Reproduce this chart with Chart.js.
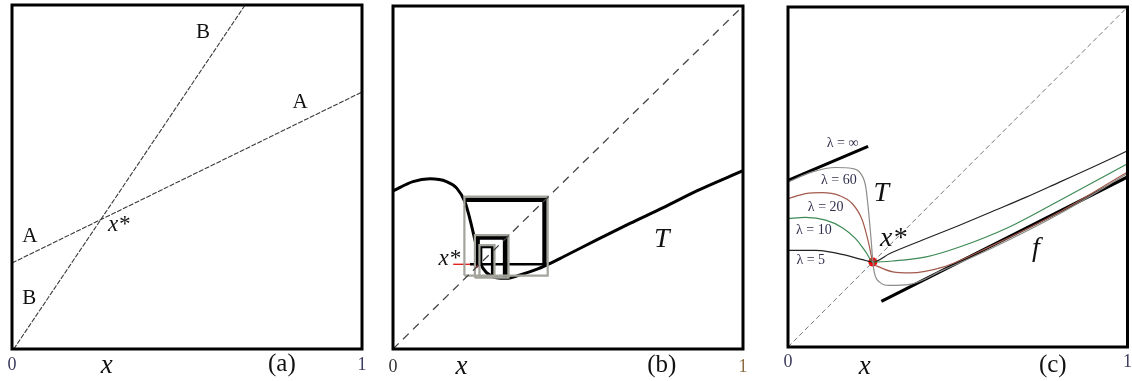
<!DOCTYPE html>
<html>
<head>
<meta charset="utf-8">
<script src="https://cdn.jsdelivr.net/npm/chart.js@4/dist/chart.umd.min.js"></script>
<style>
  body { margin: 0; background: #fff; }
  #wrap { position: relative; width: 1132px; height: 381px; }
  canvas { position: absolute; top: 0; }
</style>
</head>
<body>
<div id="wrap">
  <canvas id="panel-a" width="380" height="381" style="left:0px"></canvas>
  <canvas id="panel-b" width="376" height="381" style="left:380px"></canvas>
  <canvas id="panel-c" width="372" height="381" style="left:760px"></canvas>
</div>
<script>
// ---- panel (a): two straight lines A and B
const lineAX = [0, 1];
const lineAY = [0.25, 0.747];
const lineBX = [0.005, 0.666];
const lineBY = [0, 1];

// ---- panel (b): map T, the diagonal and the cobweb
const diagX = [0, 1];
const diagY = [0, 1];
const mapTX = [0, 0.057, 0.106, 0.153, 0.182, 0.206, 0.22, 0.234, 0.25, 0.268, 0.296, 0.325, 0.363, 0.41, 0.439, 0.487, 0.582, 0.677, 0.772, 0.868, 1.0];
const mapTY = [0.461, 0.488, 0.496, 0.488, 0.469, 0.428, 0.378, 0.318, 0.25, 0.222, 0.208, 0.206, 0.216, 0.232, 0.245, 0.269, 0.318, 0.366, 0.412, 0.461, 0.52];
// grey boxes of the cobweb: [low, high] in x and y
const boxX = [[0.204, 0.442], [0.234, 0.33], [0.247, 0.29]];
const boxY = [[0.214, 0.444], [0.208, 0.332], [0.21, 0.303]];
// black steps of the cobweb
const webX = [[0.206, 0.433, 0.433], [0.22, 0.44], [0.241, 0.241, 0.321, 0.321], [0.251, 0.251, 0.284, 0.284]];
const webY = [[0.435, 0.435, 0.242], [0.247, 0.247], [0.25, 0.326, 0.326, 0.21], [0.25, 0.298, 0.298, 0.215]];
const arrowX = [0.172, 0.243];
const arrowY = [0.247, 0.247];

// ---- panel (c): family of maps for several lambda
const lam5X = [0, 0.081, 0.121, 0.17, 0.219, 0.25, 0.3, 0.4, 0.5, 0.6, 0.7, 0.8, 0.9, 1];
const lam5Y = [0.284, 0.284, 0.28, 0.27, 0.257, 0.25, 0.275, 0.316, 0.356, 0.398, 0.44, 0.485, 0.53, 0.577];
const lam10X = [0, 0.052, 0.111, 0.16, 0.199, 0.229, 0.25, 0.309, 0.407, 0.505, 0.652, 0.8, 1];
const lam10Y = [0.378, 0.381, 0.373, 0.351, 0.319, 0.28, 0.25, 0.253, 0.265, 0.294, 0.353, 0.431, 0.539];
const lam20X = [0, 0.052, 0.101, 0.15, 0.189, 0.219, 0.238, 0.25, 0.27, 0.309, 0.358, 0.456, 0.603, 0.8, 1];
const lam20Y = [0.436, 0.451, 0.454, 0.446, 0.422, 0.373, 0.304, 0.25, 0.235, 0.221, 0.218, 0.235, 0.299, 0.397, 0.515];
const lam60X = [0, 0.072, 0.14, 0.189, 0.214, 0.229, 0.238, 0.245, 0.25, 0.255, 0.27, 0.299, 0.358, 0.456, 0.603, 0.8, 1];
const lam60Y = [0.485, 0.515, 0.528, 0.525, 0.51, 0.471, 0.392, 0.314, 0.25, 0.216, 0.191, 0.181, 0.184, 0.226, 0.292, 0.392, 0.51];
const infLeftX = [0, 0.236];
const infLeftY = [0.49, 0.59];
const lineFX = [0.275, 1];
const lineFY = [0.134, 0.5];
const fixedX = [0.25];
const fixedY = [0.25];

const SERIF = '"Liberation Serif", "Times New Roman", serif';

function series(xs, ys, style) {
  return {
    data: xs.map((x, i) => ({ x, y: ys[i] })),
    showLine: true,
    pointRadius: 0,
    fill: false,
    tension: 0,
    ...style,
  };
}

function curve(xs, ys, style) {
  return series(xs, ys, { cubicInterpolationMode: "monotone", ...style });
}

function box(xr, yr, style) {
  return series([xr[0], xr[1], xr[1], xr[0], xr[0]], [yr[0], yr[0], yr[1], yr[1], yr[0]], style);
}

const framePlugin = {
  id: "frame",
  afterDatasetsDraw(chart) {
    const { ctx, chartArea: a } = chart;
    ctx.save();
    ctx.strokeStyle = "#000";
    ctx.lineWidth = 3;
    ctx.strokeRect(a.left, a.top, a.right - a.left, a.bottom - a.top);
    ctx.restore();
  },
};

function notesPlugin(notes) {
  return {
    id: "notes",
    afterDraw(chart) {
      const { ctx, scales } = chart;
      ctx.save();
      ctx.textBaseline = "middle";
      for (const n of notes) {
        ctx.font = n.font;
        ctx.fillStyle = n.color || "#111";
        ctx.textAlign = n.align || "center";
        ctx.fillText(n.text, scales.x.getPixelForValue(n.x), scales.y.getPixelForValue(n.y));
      }
      ctx.restore();
    },
  };
}

function baseOptions(padding) {
  return {
    responsive: false,
    animation: false,
    layout: { padding },
    plugins: { legend: { display: false }, tooltip: { enabled: false } },
    scales: {
      x: { type: "linear", min: 0, max: 1, display: false },
      y: { type: "linear", min: 0, max: 1, display: false },
    },
  };
}

function axisNotes(xPos, tag, tagPos, yNum, yText, numColors) {
  return [
    { text: "0", x: 0, y: yNum, font: `18px ${SERIF}`, color: numColors[0] },
    { text: "1", x: 1, y: yNum, font: `18px ${SERIF}`, color: numColors[1] },
    { text: "x", x: xPos, y: yText, font: `italic 27px ${SERIF}`, color: "#111" },
    { text: tag, x: tagPos, y: yText + 0.004, font: `25px ${SERIF}`, color: "#111" },
  ];
}

// panel (a)
const thinLine = { borderColor: "#3a3a3a", borderWidth: 1.1, borderDash: [5, 1.5] };
new Chart(document.getElementById("panel-a"), {
  type: "scatter",
  data: {
    datasets: [series(lineAX, lineAY, thinLine), series(lineBX, lineBY, thinLine)],
  },
  options: baseOptions({ left: 12, right: 18, top: 5, bottom: 32 }),
  plugins: [
    framePlugin,
    notesPlugin([
      { text: "B", x: 0.546, y: 0.919, font: `21px ${SERIF}` },
      { text: "A", x: 0.823, y: 0.718, font: `21px ${SERIF}` },
      { text: "A", x: 0.051, y: 0.328, font: `21px ${SERIF}` },
      { text: "B", x: 0.049, y: 0.148, font: `21px ${SERIF}` },
      { text: "x*", x: 0.305, y: 0.36, font: `italic 23px ${SERIF}` },
      ...axisNotes(0.271, "(a)", 0.771, -0.047, -0.05, ["#3b3b5e", "#3b3b5e"]),
    ]),
  ],
});

// panel (b)
const webWidths = [4.5, 2.5, 5, 3];
new Chart(document.getElementById("panel-b"), {
  type: "scatter",
  data: {
    datasets: [
      series(diagX, diagY, { borderColor: "#444", borderWidth: 1.3, borderDash: [8, 6] }),
      ...boxX.map((xr, i) => box(xr, boxY[i], { borderColor: "#a4a49c", borderWidth: 2.2 })),
      ...webX.map((xs, i) => series(xs, webY[i], { borderColor: "#000", borderWidth: webWidths[i] })),
      curve(mapTX, mapTY, { borderColor: "#000", borderWidth: 3 }),
      series(arrowX, arrowY, {
        borderColor: "#e01010",
        borderWidth: 1.3,
        pointRadius: [0, 4],
        pointStyle: "triangle",
        rotation: 90,
        pointBackgroundColor: "#e01010",
        pointBorderColor: "#e01010",
      }),
    ],
  },
  options: baseOptions({ left: 13, right: 13, top: 6, bottom: 32 }),
  plugins: [
    framePlugin,
    notesPlugin([
      { text: "x*", x: 0.192, y: 0.262, font: `italic 23px ${SERIF}`, align: "right" },
      { text: "T", x: 0.768, y: 0.318, font: `italic 28px ${SERIF}` },
      ...axisNotes(0.196, "(b)", 0.768, -0.052, -0.052, ["#333", "#8a6a40"]),
    ]),
  ],
});

// panel (c)
const lamWidth = 1.2;
new Chart(document.getElementById("panel-c"), {
  type: "scatter",
  data: {
    datasets: [
      series(diagX, diagY, { borderColor: "#777", borderWidth: 1, borderDash: [5, 3] }),
      curve(lam60X, lam60Y, { borderColor: "#8c8c88", borderWidth: lamWidth }),
      curve(lam20X, lam20Y, { borderColor: "#a35a4c", borderWidth: lamWidth }),
      curve(lam10X, lam10Y, { borderColor: "#3d8a55", borderWidth: lamWidth }),
      curve(lam5X, lam5Y, { borderColor: "#222", borderWidth: lamWidth }),
      series(infLeftX, infLeftY, { borderColor: "#000", borderWidth: 3.2 }),
      series(lineFX, lineFY, { borderColor: "#000", borderWidth: 3.2 }),
      {
        data: fixedX.map((x, i) => ({ x, y: fixedY[i] })),
        pointRadius: 4.5,
        pointBorderWidth: 0,
        pointBackgroundColor: "#ff0000",
        pointBorderColor: "#ff0000",
      },
    ],
  },
  options: baseOptions({ left: 28, right: 4, top: 7, bottom: 34 }),
  plugins: [
    framePlugin,
    notesPlugin([
      { text: "λ = ∞", x: 0.161, y: 0.598, font: `14px ${SERIF}`, color: "#30304e" },
      { text: "λ = 60", x: 0.15, y: 0.49, font: `14px ${SERIF}`, color: "#30304e" },
      { text: "λ = 20", x: 0.111, y: 0.412, font: `14px ${SERIF}`, color: "#30304e" },
      { text: "λ = 10", x: 0.076, y: 0.343, font: `14px ${SERIF}`, color: "#30304e" },
      { text: "λ = 5", x: 0.067, y: 0.255, font: `14px ${SERIF}`, color: "#30304e" },
      { text: "T", x: 0.275, y: 0.451, font: `italic 28px ${SERIF}` },
      { text: "x*", x: 0.31, y: 0.318, font: `italic 28px ${SERIF}` },
      { text: "f", x: 0.73, y: 0.289, font: `italic 28px ${SERIF}` },
      ...axisNotes(0.226, "(c)", 0.78, -0.044, -0.058, ["#3b3b5e", "#3b3b5e"]),
    ]),
  ],
});
</script>
</body>
</html>
